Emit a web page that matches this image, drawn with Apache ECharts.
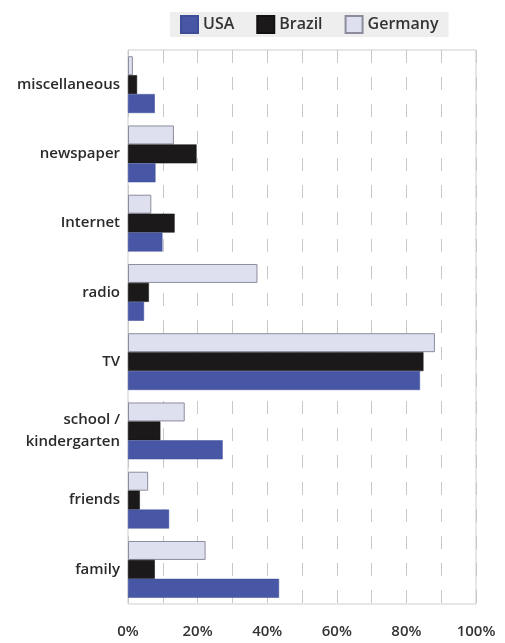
<!DOCTYPE html>
<html><head><meta charset="utf-8">
<script src="https://cdn.jsdelivr.net/npm/echarts@6/dist/echarts.min.js"></script>
<style>html,body{margin:0;padding:0;background:#fff}#c{width:505px;height:643px}</style>
</head><body><div id="c"></div>
<script>
const categories = ['family','friends','school /\nkindergarten','TV','radio','Internet','newspaper','miscellaneous'];
const usa     = [43.4, 11.8, 27.2, 83.9, 4.6, 9.9, 7.9, 7.7];
const brazil  = [7.7, 3.4, 9.3, 84.9, 6.0, 13.4, 19.7, 2.6];
const germany = [22.3, 5.8, 16.3, 88.2, 37.2, 6.7, 13.2, 1.4];
const seriesNames = ['USA','Brazil','Germany'];

const FONT = '"Open Sans", "Noto Sans", sans-serif';
const chart = echarts.init(document.getElementById('c'), null, {renderer:'canvas'});
chart.setOption({
  animation:false,
  textStyle:{fontFamily:FONT},
  legend:{
    data:seriesNames, top:12, left:170,
    backgroundColor:'#eeeeee', padding:[3,10,3,10],
    itemWidth:17, itemHeight:17, itemGap:22,
    textStyle:{fontSize:16, color:'#333', fontWeight:600, fontFamily:FONT},
    icon:'rect'
  },
  grid:{left:128, right:29, top:50, bottom:39, show:true, borderColor:'#cfcfcf', borderWidth:1},
  xAxis:{
    type:'value', min:0, max:100, interval:10,
    axisLine:{show:false}, axisTick:{show:false},
    splitLine:{show:true, lineStyle:{color:'#c8c8c8', type:[13,14], width:1}},
    axisLabel:{margin:20, fontSize:15, color:'#333', fontWeight:600, fontFamily:FONT,
      formatter:v => (v % 20 === 0 ? v + '%' : '')}
  },
  yAxis:{
    type:'category', data:categories,
    axisLine:{show:false}, axisTick:{show:false},
    axisLabel:{fontSize:15, color:'#2a2a2a', fontWeight:600, margin:8, lineHeight:22, fontFamily:FONT}
  },
  series:[
    {name:'Germany', type:'bar', data:germany, barGap:'0%', barCategoryGap:'18%',
      itemStyle:{color:'#dee0f0', borderColor:'#8c8c9c', borderWidth:1}},
    {name:'Brazil', type:'bar', data:brazil, barGap:'0%', barCategoryGap:'18%',
      itemStyle:{color:'#1c191b', borderColor:'#111', borderWidth:0.5}},
    {name:'USA', type:'bar', data:usa, barGap:'0%', barCategoryGap:'18%',
      itemStyle:{color:'#4757a6', borderColor:'#3e4d96', borderWidth:0.5}}
  ]
});
</script></body></html>
